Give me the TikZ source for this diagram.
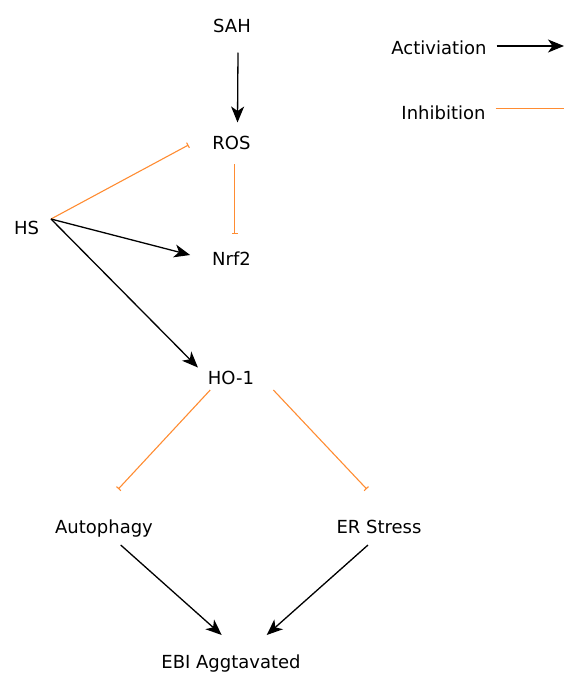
\documentclass[tikz,border=0pt]{standalone}
\usepackage{xcolor}
\usepackage{fontspec}
\setmainfont{DejaVu Sans}
\usetikzlibrary{positioning, arrows.meta}

\definecolor{inhorange}{RGB}{255,140,50}

\begin{document}
\begin{tikzpicture}[
    x=1pt, y=-1pt,
    % Define common styles
        label/.style={font=\fontsize{18}{20}\selectfont, inner sep=0pt, outer sep=0pt, text height=13pt, text depth=0pt, anchor=center},
        activate/.style={-{Stealth[length=16pt, width=13pt, inset=4.5pt]}, line width=1.3pt, black},
        inhibit/.style={-{Bar[width=6pt, line width=1.1pt]}, line width=1.1pt, inhorange}
    ]
        \useasboundingbox (0,0) rectangle (564,673);

        % Main nodes
        \node[label] (sah) at (232,26) {SAH};
        \node[label] (ros) at (231.5,143) {ROS};
        \node[label] (hs) at (26.5,228) {HS};
        \node[label] (nrf) at (231.5,259) {Nrf2};
        \node[label] (ho) at (231,378) {HO-1};
        \node[label] (autophagy) at (104,527) {Autophagy};
        \node[label] (erstress) at (379,527) {ER Stress};
        \node[label] (ebi) at (231,662) {EBI Aggtavated};

        % Legend
        \node[label] (actlbl) at (439,48) {Activiation};
        \node[label] (inhlbl) at (443.5,113) {Inhibition};
        \coordinate (actend) at (564,46);
        \coordinate (inhend) at (564,108.3);
        \draw[activate] ([shift={(10,-2)}]actlbl.east) -- (actend);
        \draw[inhorange, line width=1.1pt] ([shift={(10,-4.7)}]inhlbl.east) -- (inhend);

        % Branch point next to HS
        \coordinate (hub) at ([shift={(12,-2.5)}]hs.north east);

        % SAH and ROS
        \draw[activate] ([shift={(6,20)}]sah.south) -- ([shift={(6,-14)}]ros.north);
        \draw[inhibit] ([shift={(3,14.5)}]ros.south) -- ([shift={(3,-18.5)}]nrf.north);

        % HS connections
        \draw[inhibit] (hub) -- ([shift={(-24,2)}]ros.west);
        \draw[activate] (hub) -- ([shift={(-22,-4)}]nrf.west);
        \draw[activate] (hub) -- ([shift={(-10,-10.5)}]ho.west);

        % HO-1 branches
        \draw[inhibit] ([shift={(2.3,5.5)}]ho.south west) -- ([shift={(14.3,-31.5)}]autophagy.north);
        \draw[inhibit] ([shift={(19.3,5.5)}]ho.south east) -- ([shift={(-12.3,-31.5)}]erstress.north);

        % Bottom arrows
        \draw[activate] ([shift={(16.7,11.5)}]autophagy.south) -- ([shift={(-9.3,-20.5)}]ebi.north);
        \draw[activate] ([shift={(-11,11.5)}]erstress.south) -- ([shift={(35.7,-20.5)}]ebi.north);

    \end{tikzpicture}
\end{document}
